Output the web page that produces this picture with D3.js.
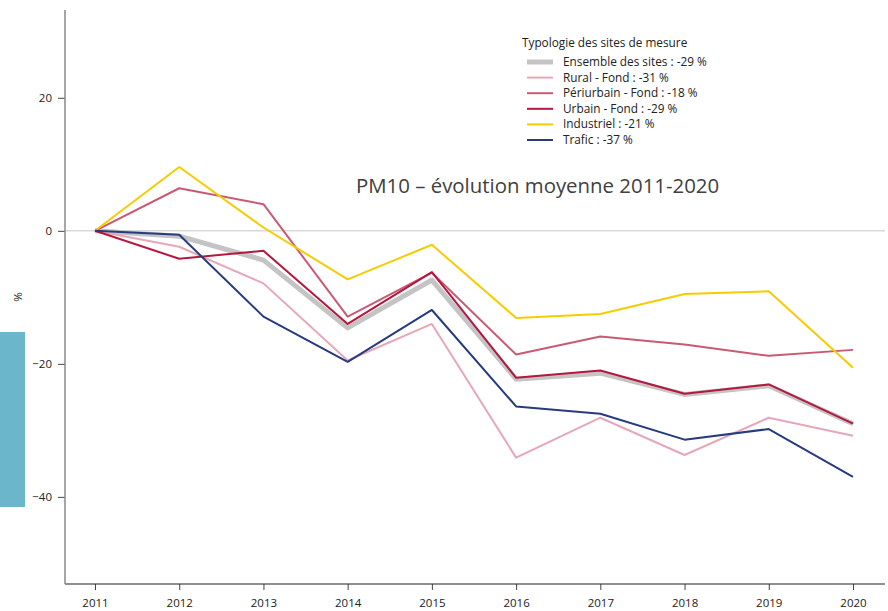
<!DOCTYPE html>
<html>
<head>
<meta charset="utf-8">
<script src="https://cdn.jsdelivr.net/npm/d3@7"></script>
<style>
  body { margin: 0; background: #fff; }
  svg { display: block; font-family: "Open Sans", "Noto Sans", sans-serif; }
</style>
</head>
<body>
<div id="chart"></div>
<script>
// Données
const years = [2011, 2012, 2013, 2014, 2015, 2016, 2017, 2018, 2019, 2020];
const ensemble   = [0, -0.8, -4.4, -14.6, -7.4, -22.3, -21.4, -24.6, -23.3, -29.0];
const rural      = [0, -2.4, -7.9, -19.5, -14.0, -34.1, -28.1, -33.7, -28.1, -30.8];
const periurbain = [0, 6.4, 4.0, -12.9, -6.3, -18.6, -15.9, -17.1, -18.8, -17.9];
const urbain     = [0, -4.2, -3.0, -14.0, -6.2, -22.1, -21.0, -24.5, -23.1, -29.0];
const industriel = [0, 9.6, 0.5, -7.3, -2.1, -13.1, -12.5, -9.5, -9.1, -20.6];
const trafic     = [0, -0.6, -12.9, -19.7, -11.9, -26.4, -27.5, -31.4, -29.8, -37.0];
const yTicks = [-40, -20, 0, 20];

const series = [
  { name: "Ensemble des sites : -29 %", values: ensemble, color: "#c4c4c4", w: 5 },
  { name: "Rural - Fond : -31 %", values: rural, color: "#e6a7b7", w: 2 },
  { name: "Périurbain - Fond : -18 %", values: periurbain, color: "#c95a74", w: 2 },
  { name: "Urbain - Fond : -29 %", values: urbain, color: "#b5173e", w: 2 },
  { name: "Industriel : -21 %", values: industriel, color: "#f6cc00", w: 2 },
  { name: "Trafic : -37 %", values: trafic, color: "#263b80", w: 2 }
];

const width = 888, height = 611;
const svg = d3.select("#chart").append("svg")
  .attr("width", width).attr("height", height);

// bloc bleu à gauche
svg.append("rect").attr("x", 0).attr("y", 332).attr("width", 25).attr("height", 175)
  .attr("fill", "#6cb6cc");

const x = d3.scalePoint().domain(years).range([95, 853]);
const y = d3.scaleLinear().domain([-53.1, 33.2]).range([584, 10]);

// ligne zéro
svg.append("line")
  .attr("x1", 65).attr("x2", 885)
  .attr("y1", y(0)).attr("y2", y(0))
  .attr("stroke", "#d9d9d9").attr("stroke-width", 1.5);

// axes
const gx = svg.append("g").attr("transform", `translate(0,${y.range()[0]})`)
  .call(d3.axisBottom(x).tickSize(6).tickPadding(9));
gx.select(".domain").remove();
gx.append("line").attr("x1", 65).attr("x2", 885).attr("stroke", "#222").attr("stroke-width", 1.2);
gx.selectAll(".tick line").attr("stroke", "#444");
gx.selectAll("text").attr("font-size", 11.5).attr("fill", "#222").attr("font-family", "Open Sans, sans-serif");

const gy = svg.append("g").attr("transform", "translate(65,0)")
  .call(d3.axisLeft(y).tickValues(yTicks).tickSize(7).tickPadding(6));
gy.select(".domain").remove();
gy.append("line").attr("y1", 10).attr("y2", 584).attr("stroke", "#888").attr("stroke-width", 1.5);
gy.selectAll(".tick line").attr("stroke", "#444");
gy.selectAll("text").attr("font-size", 11.5).attr("fill", "#222").attr("font-family", "Open Sans, sans-serif");

svg.append("text")
  .attr("transform", "translate(22,297) rotate(-90)")
  .attr("text-anchor", "middle")
  .attr("font-size", 11.5).attr("fill", "#222")
  .text("%");

// lignes
const line = d3.line().x((d, i) => x(years[i])).y(d => y(d));
svg.selectAll(".serie")
  .data(series)
  .enter()
  .append("path")
  .attr("class", "serie")
  .attr("d", d => line(d.values))
  .attr("fill", "none")
  .attr("stroke", d => d.color)
  .attr("stroke-width", d => d.w)
  .attr("stroke-linejoin", "round");

// titre
svg.append("text")
  .attr("x", 356).attr("y", 193)
  .attr("font-size", 20.4).attr("fill", "#404040")
  .text("PM10 – évolution moyenne 2011-2020");

// légende
const leg = svg.append("g");
leg.append("text").attr("x", 522).attr("y", 47)
  .attr("font-size", 11.8).attr("fill", "#222")
  .text("Typologie des sites de mesure");
const items = leg.selectAll(".item").data(series).enter().append("g")
  .attr("transform", (d, i) => `translate(0,${62 + i * 15.6})`);
items.append("line").attr("x1", 527).attr("x2", 553)
  .attr("stroke", d => d.color).attr("stroke-width", d => d.w);
items.append("text").attr("x", 563).attr("y", 4)
  .attr("font-size", 11.8).attr("fill", "#222")
  .text(d => d.name);
</script>
</body>
</html>
